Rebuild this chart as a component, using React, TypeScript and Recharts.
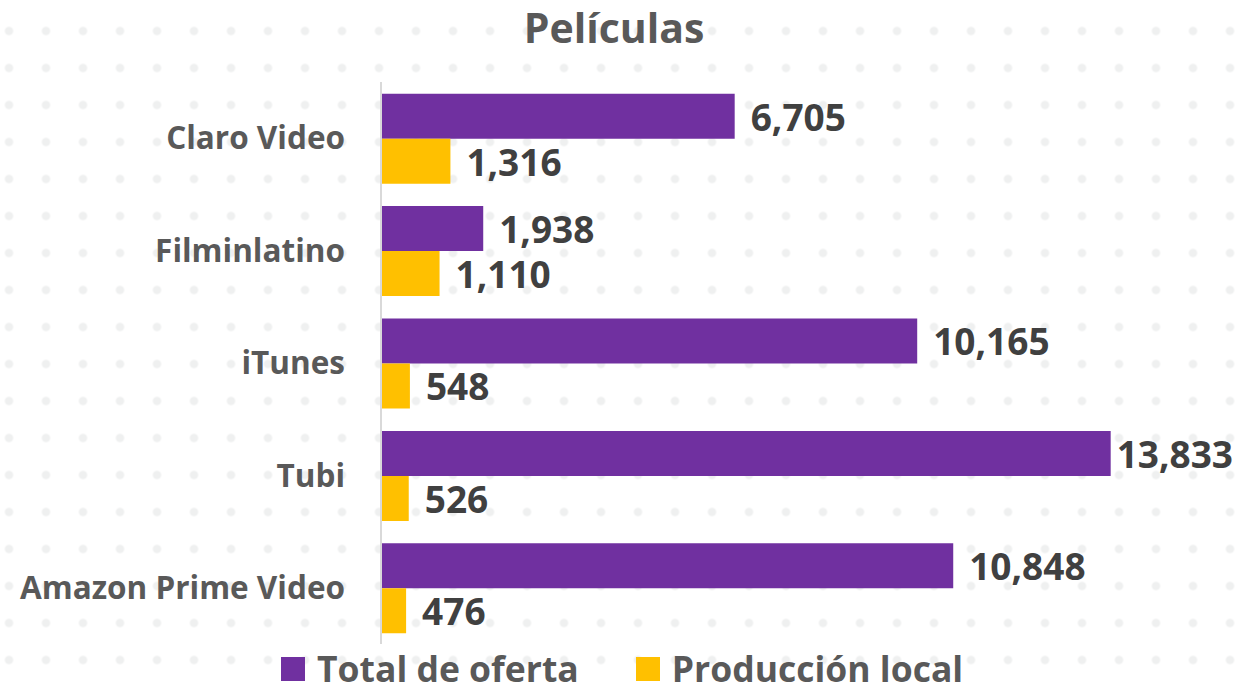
import React from 'react';
import { BarChart, Bar, XAxis, YAxis, Legend, LabelList } from 'recharts';

const platforms = ['Claro Video', 'Filminlatino', 'iTunes', 'Tubi', 'Amazon Prime Video'];
const totalOferta = [6705, 1938, 10165, 13833, 10848];
const produccionLocal = [1316, 1110, 548, 526, 476];
const seriesNames = ['Total de oferta', 'Producción local'];

const PURPLE = '#7030A0';
const GOLD = '#FFC000';
const FONT = '"Open Sans", sans-serif';

const data = platforms.map((name, i) => ({
  name,
  total: totalOferta[i],
  local: produccionLocal[i],
}));

const fmt = (v: any) => Number(v).toLocaleString('en-US');

// value label to the right of the bar; pulled in closer when it would run off the edge
const ValueLabel = (props: any) => {
  const { x, y, width, height, value } = props;
  const end = Number(x) + Number(width);
  const gap = end > 1050 ? 6 : 16;
  return (
    <text
      x={end + gap}
      y={Number(y) + Number(height) / 2}
      dominantBaseline="central"
      fill="#404040"
      fontSize={37}
      fontWeight={700}
      fontFamily={FONT}
    >
      {fmt(value)}
    </text>
  );
};

// simple legend with big squares, like the Excel original
const renderLegend = () => (
  <div
    style={{
      height: 46,
      paddingTop: 2,
      boxSizing: 'border-box',
      display: 'flex',
      alignItems: 'center',
      paddingLeft: 281,
      fontFamily: FONT,
      fontWeight: 700,
      fontSize: 35.5,
      color: '#595959',
    }}
  >
    {seriesNames.map((label, i) => (
      <div key={label} style={{ display: 'flex', alignItems: 'center', marginRight: 57 }}>
        <span
          style={{
            display: 'inline-block',
            width: 24,
            height: 24,
            background: i === 0 ? PURPLE : GOLD,
            marginRight: 12,
            marginTop: 2,
          }}
        />
        <span style={{ lineHeight: '36px' }}>{label}</span>
      </div>
    ))}
  </div>
);

export default function App() {
  return (
    <div
      style={{
        position: 'absolute',
        left: 0,
        top: 0,
        width: 1260,
        height: 690,
        backgroundColor: '#ffffff',
        backgroundImage: 'radial-gradient(circle at center, #eff0f0 0, #eff0f0 3.8px, rgba(255,255,255,0) 4.6px)',
        backgroundSize: '37px 37px',
        backgroundPosition: '-9.5px 12.5px',
      }}
    >
      <div
        style={{
          position: 'absolute',
          top: 7,
          left: 0,
          width: 1228,
          textAlign: 'center',
          fontFamily: FONT,
          fontWeight: 700,
          fontSize: 41,
          lineHeight: '41px',
          color: '#595959',
        }}
      >
        Películas
      </div>
      <BarChart
        width={1260}
        height={690}
        data={data}
        layout="vertical"
        margin={{ top: 82, right: 35, bottom: 0, left: 0 }}
        barCategoryGap="10.4%"
        barGap={0}
      >
        <XAxis type="number" domain={[0, 16000]} hide />
        <YAxis
          type="category"
          dataKey="name"
          width={381}
          tickLine={false}
          tickSize={0}
          tickMargin={36}
          axisLine={{ stroke: '#d9d9d9', strokeWidth: 2 }}
          tick={{ fill: '#595959', fontSize: 31.5, fontWeight: 700, fontFamily: FONT }}
        />
        <Legend verticalAlign="bottom" content={renderLegend} />
        <Bar dataKey="total" name={seriesNames[0]} fill={PURPLE} isAnimationActive={false}>
          <LabelList dataKey="total" content={ValueLabel} />
        </Bar>
        <Bar dataKey="local" name={seriesNames[1]} fill={GOLD} isAnimationActive={false}>
          <LabelList dataKey="local" content={ValueLabel} />
        </Bar>
      </BarChart>
    </div>
  );
}
